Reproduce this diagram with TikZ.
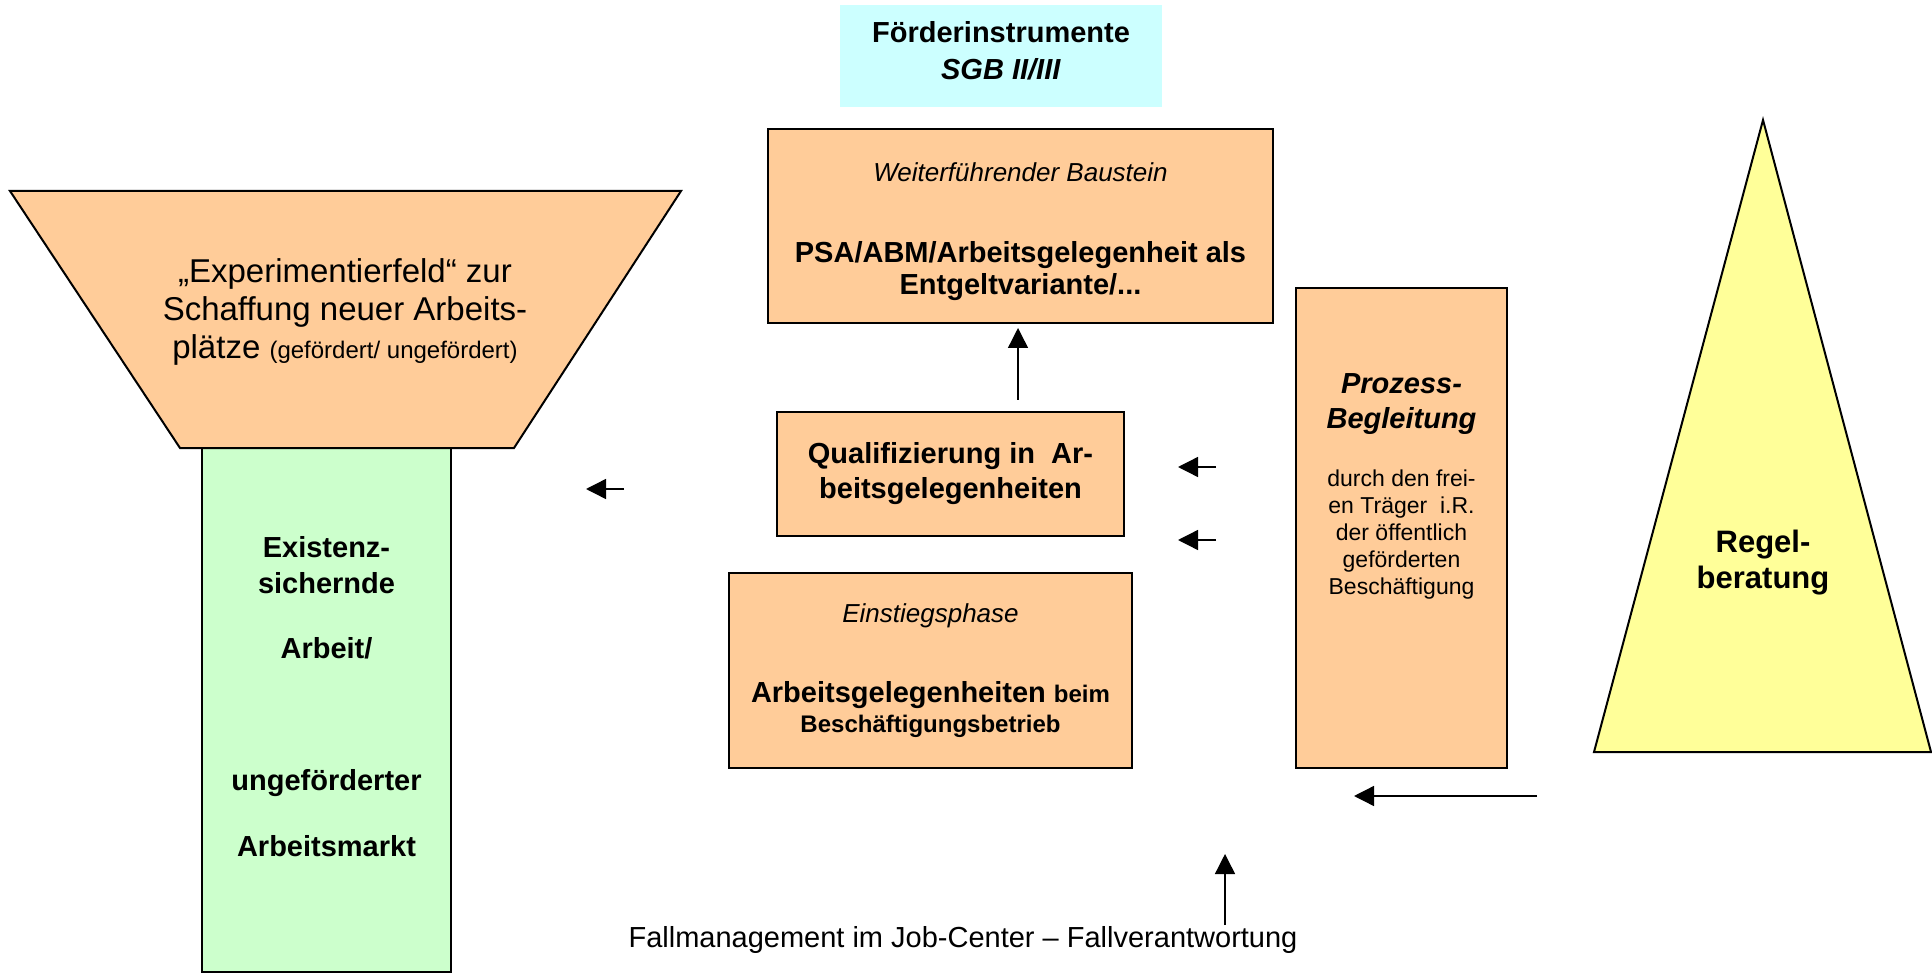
\documentclass[tikz,border=0pt]{standalone}
\usepackage{fontspec}
\setmainfont{Liberation Sans}
\usetikzlibrary{arrows.meta}
\definecolor{orangefill}{HTML}{FFCC99}
\definecolor{greenfill}{HTML}{CCFFCC}
\definecolor{cyanfill}{HTML}{CCFFFF}
\definecolor{yellowfill}{HTML}{FFFF99}
\begin{document}
\begin{tikzpicture}[x=0.5pt,y=-0.5pt,
  box/.style={draw=black, line width=1pt, fill=orangefill, inner sep=0pt, outer sep=0pt, align=center},
  txt/.style={inner sep=0pt, align=center},
  arr/.style={line width=0.7pt, -{Triangle[length=10pt,width=10pt]}},
  shapeline/.style={draw=black, line width=1pt, line join=miter}]

\path[use as bounding box] (0,0) rectangle (1932,978);

% green column
\node[box, fill=greenfill, minimum width=124.5pt, minimum height=262pt] (existenz) at (326.5,710) {};
\node[txt, font=\fontsize{14.5}{18}\selectfont\bfseries] (existenztext) at (326.5,696.5)
  {Existenz-\\sichernde\\[14.5pt]Arbeit/\\[48pt]ungeförderter\\[15pt]Arbeitsmarkt};

% funnel
\draw[shapeline, fill=orangefill] (10,191) -- (681,191) -- (514,448) -- (180,448) -- cycle;
\node[txt, font=\fontsize{16.5}{19}\selectfont] (experiment) at (345,311.5)
  {„Experimentierfeld“ zur\\Schaffung neuer Arbeits-\\plätze {\fontsize{12}{19}\selectfont(gefördert/ ungefördert)}};

% title
\node[fill=cyanfill, inner sep=0pt, outer sep=0pt, minimum width=161pt, minimum height=51pt] (foerder) at (1001,56) {};
\node[txt, font=\fontsize{14.5}{18.5}\selectfont\bfseries] (foerdertext) at (1001,51)
  {Förderinstrumente\\\textit{SGB II/III}};

% boxes
\node[box, minimum width=252.5pt, minimum height=97pt] (weiter) at (1020.5,226) {};
\node[txt, font=\fontsize{14.5}{16}\selectfont\bfseries] (weitertext) at (1020.5,231.5)
  {{\fontsize{13}{16}\selectfont\mdseries\itshape Weiterführender Baustein}\\[24.5pt]PSA/ABM/Arbeitsgelegenheit als\\Entgeltvariante/...};

\node[box, minimum width=173.5pt, minimum height=62pt, font=\fontsize{14.5}{17.5}\selectfont\bfseries] (qual) at (950.5,474)
  {Qualifizierung in\ \ Ar-\\beitsgelegenheiten};

\node[box, minimum width=201.5pt, minimum height=97.5pt, font=\fontsize{14.5}{15}\selectfont\bfseries] (einstieg) at (930.5,670.5)
  {{\fontsize{13}{15}\selectfont\mdseries\itshape Einstiegsphase}\\[25pt]Arbeitsgelegenheiten {\fontsize{12}{15}\selectfont beim}\\{\fontsize{12}{15}\selectfont Beschäftigungsbetrieb}};

\node[box, minimum width=105.5pt, minimum height=240pt] (prozess) at (1401.5,528) {};
\node[txt, font=\fontsize{14.5}{17.5}\selectfont\bfseries\itshape] (prozesstitel) at (1401.5,404.5)
  {Prozess-\\Begleitung};
\node[txt, font=\fontsize{11.5}{13.6}\selectfont] (prozesstext) at (1401.5,534.5)
  {durch den frei-\\en Träger\ \ i.R.\\der öffentlich\\geförderten\\Beschäftigung};

% triangle
\draw[shapeline, fill=yellowfill] (1763,120) -- (1931,752) -- (1594,752) -- cycle;
\node[txt, font=\fontsize{15.5}{18}\selectfont\bfseries] (regel) at (1763,563) {Regel-\\beratung};

% bottom text
\node[txt, font=\fontsize{14.5}{17}\selectfont] (fallmanagement) at (963,940)
  {Fallmanagement im Job-Center – Fallverantwortung};

% arrows
\coordinate (a1s) at (624,489);  \coordinate (a1e) at (586,489);
\coordinate (a2s) at (1018,400); \coordinate (a2e) at (1018,328);
\coordinate (a3s) at (1216,467); \coordinate (a3e) at (1178,467);
\coordinate (a4s) at (1216,540); \coordinate (a4e) at (1178,540);
\coordinate (a5s) at (1537,796); \coordinate (a5e) at (1354,796);
\coordinate (a6s) at (1225,925); \coordinate (a6e) at (1225,854);
\draw[arr] (a1s) -- (a1e);
\draw[arr] (a2s) -- (a2e);
\draw[arr] (a3s) -- (a3e);
\draw[arr] (a4s) -- (a4e);
\draw[arr] (a5s) -- (a5e);
\draw[arr] (a6s) -- (a6e);
\end{tikzpicture}
\end{document}
